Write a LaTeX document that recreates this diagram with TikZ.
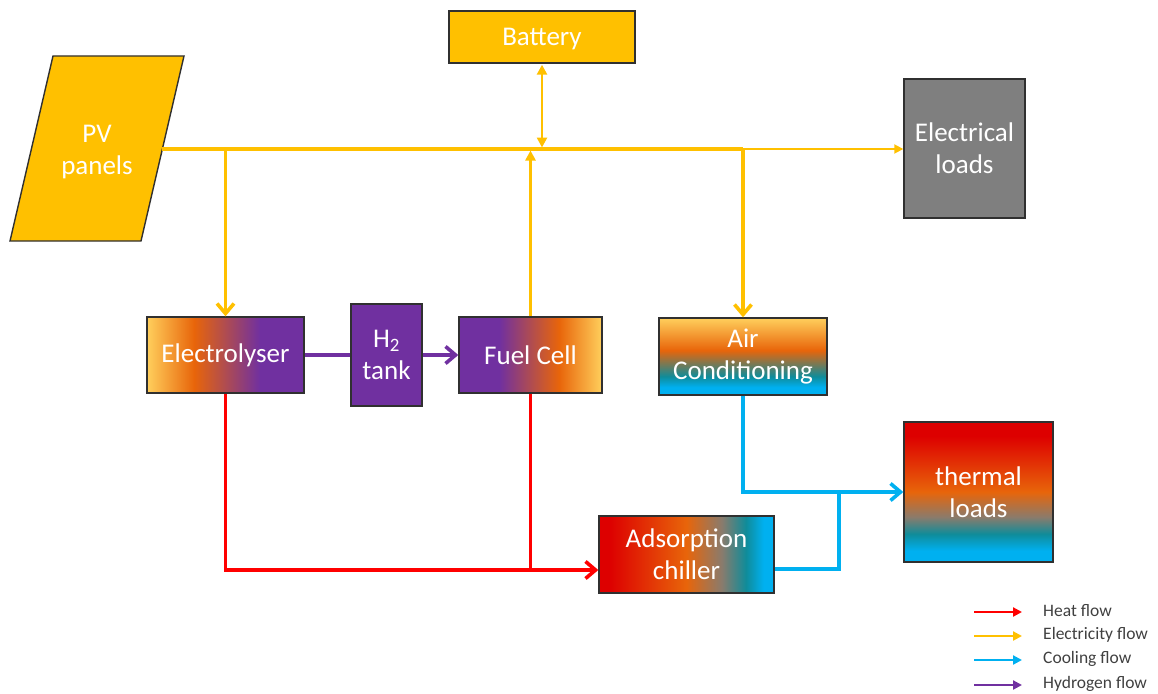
\documentclass[tikz,border=0pt]{standalone}
\usepackage{fontspec}
\setmainfont{Carlito}
\usetikzlibrary{arrows.meta}
\definecolor{cyel}{HTML}{FFC000}
\definecolor{clyel}{HTML}{FFCF5C}
\definecolor{corg}{HTML}{E8650A}
\definecolor{cpur}{HTML}{7030A0}
\definecolor{cred}{HTML}{DD0000}
\definecolor{cteal}{HTML}{0F8C9A}
\definecolor{ccyan}{HTML}{00B0F0}
\definecolor{cgrey}{HTML}{8A7B6C}
\definecolor{cline}{HTML}{FF0000}
\definecolor{cborder}{HTML}{303030}
\definecolor{cgbox}{HTML}{7F7F7F}
\definecolor{ctext}{HTML}{404040}
\pgfdeclarehorizontalshading{shElec}{100bp}{color(0bp)=(clyel); color(25bp)=(clyel); color(40bp)=(corg); color(61bp)=(cpur); color(100bp)=(cpur)}
\pgfdeclarehorizontalshading{shFC}{100bp}{color(0bp)=(cpur); color(39bp)=(cpur); color(60bp)=(corg); color(75bp)=(clyel); color(100bp)=(clyel)}
\pgfdeclareverticalshading{shAC}{100bp}{color(0bp)=(ccyan); color(30bp)=(ccyan); color(37bp)=(cteal); color(54bp)=(corg); color(75bp)=(clyel); color(100bp)=(clyel)}
\pgfdeclareverticalshading{shTL}{100bp}{color(0bp)=(ccyan); color(29bp)=(ccyan); color(35bp)=(cteal); color(41bp)=(cgrey); color(50bp)=(corg); color(70bp)=(cred); color(100bp)=(cred)}
\pgfdeclarehorizontalshading{shCH}{100bp}{color(0bp)=(cred); color(28bp)=(cred); color(50bp)=(corg); color(60bp)=(cgrey); color(67bp)=(cteal); color(72bp)=(ccyan); color(100bp)=(ccyan)}
\tikzset{
  box/.style={draw=cborder, line width=1.4pt, inner sep=0pt, text=white, align=center,
    font=\fontsize{27}{32}\selectfont},
  elecflow/.style={draw=cyel, line width=3.6pt},
  heatflow/.style={draw=cline, line width=3.6pt},
  coolflow/.style={draw=ccyan, line width=3.6pt},
  hydflow/.style={draw=cpur, line width=3.6pt},
  barb/.style={-{Straight Barb[length=10pt,width=17pt]}},
  tri/.style={-{Triangle[length=10pt,width=10pt]}},
  legarrow/.style={line width=2.2pt, -{Triangle[length=9pt,width=9pt]}},
  legtext/.style={anchor=west, inner sep=0pt, text=ctext, font=\fontsize{17.5}{20}\selectfont}
}
\begin{document}
\begin{tikzpicture}[x=1pt,y=-1pt]
\useasboundingbox (0,0) rectangle (1158,693);
% PV panels
\filldraw[fill=cyel, draw=cborder, line width=1.4pt] (53,56) -- (184,56) -- (141,241) -- (10,241) -- cycle;
\node[text=white, align=center, font=\fontsize{27}{32}\selectfont] (pv) at (97,152) {PV\\panels};
\coordinate (pvout) at (162.4,149);
% boxes
\node[box, fill=cyel, minimum width=186pt, minimum height=52pt, text depth=0pt] (batt) at (542,37) {Battery};
\node[box, fill=cgbox, minimum width=121pt, minimum height=139pt] (eload) at (964.5,148.5) {Electrical\\loads};
\node[box, shading=shElec, minimum width=157pt, minimum height=76pt] (elec) at (225.5,355) {Electrolyser};
\node[box, fill=cpur, minimum width=71pt, minimum height=102pt] (h2) at (386.5,355) {H\textsubscript{2}\\tank};
\node[box, shading=shFC, minimum width=143pt, minimum height=76pt] (fc) at (530.5,355) {Fuel Cell};
\node[box, shading=shAC, minimum width=168pt, minimum height=77pt] (ac) at (743,356.5) {Air\\Conditioning};
\node[box, shading=shTL, minimum width=149pt, minimum height=140pt] (tl) at (978.5,492) {thermal\\loads};
\node[box, shading=shCH, minimum width=175pt, minimum height=77pt] (ch) at (686.5,554.5) {Adsorption\\chiller};
% electricity
\coordinate (jAC) at (ac.north |- pvout);
\coordinate (jE) at (elec.north |- pvout);
\draw[elecflow] (pvout) -- (jAC);
\draw[draw=cyel, line width=1.8pt, -{Triangle[length=9pt,width=9pt]}] (jAC) -- (jAC -| eload.west);
\draw[elecflow, barb] (jE) -- (elec.north);
\draw[elecflow, barb] (jAC) -- (ac.north);
\draw[draw=cyel, line width=2.6pt, {Triangle[length=10pt,width=10pt]}-{Triangle[length=10pt,width=10pt]}, shorten >=1.5pt, shorten <=1pt] (batt.south) -- (batt.south |- pvout);
\draw[draw=cyel, line width=2.6pt, tri, shorten >=1.5pt] (fc.north) -- (fc.north |- pvout);
% hydrogen
\draw[hydflow] (elec.east) -- (h2.west);
\draw[hydflow, barb] (h2.east) -- (fc.west);
% heat
\coordinate (hin) at ([yshift=-15.5pt]ch.west);
\draw[heatflow, barb] (elec.south) |- (hin);
\draw[heatflow] (fc.south) -- (fc.south |- hin);
% cooling
\coordinate (cout) at ([yshift=-14.5pt]ch.east);
\coordinate (cj) at (839,492);
\draw[coolflow, barb] (ac.south) |- (tl.west);
\draw[coolflow] (cout) -| (cj);
% legend
\coordinate (l1a) at (974,612); \coordinate (l1b) at (1022,612);
\coordinate (l2a) at (974,636); \coordinate (l2b) at (1022,636);
\coordinate (l3a) at (974,660); \coordinate (l3b) at (1022,660);
\coordinate (l4a) at (974,685); \coordinate (l4b) at (1022,685);
\draw[legarrow, draw=cline] (l1a) -- (l1b);
\draw[legarrow, draw=cyel] (l2a) -- (l2b);
\draw[legarrow, draw=ccyan] (l3a) -- (l3b);
\draw[legarrow, draw=cpur] (l4a) -- (l4b);
\node[legtext] (t1) at (1043,611) {Heat flow};
\node[legtext] (t2) at (1043,635) {Electricity flow};
\node[legtext] (t3) at (1043,659) {Cooling flow};
\node[legtext] (t4) at (1043,684) {Hydrogen flow};
\end{tikzpicture}
\end{document}
